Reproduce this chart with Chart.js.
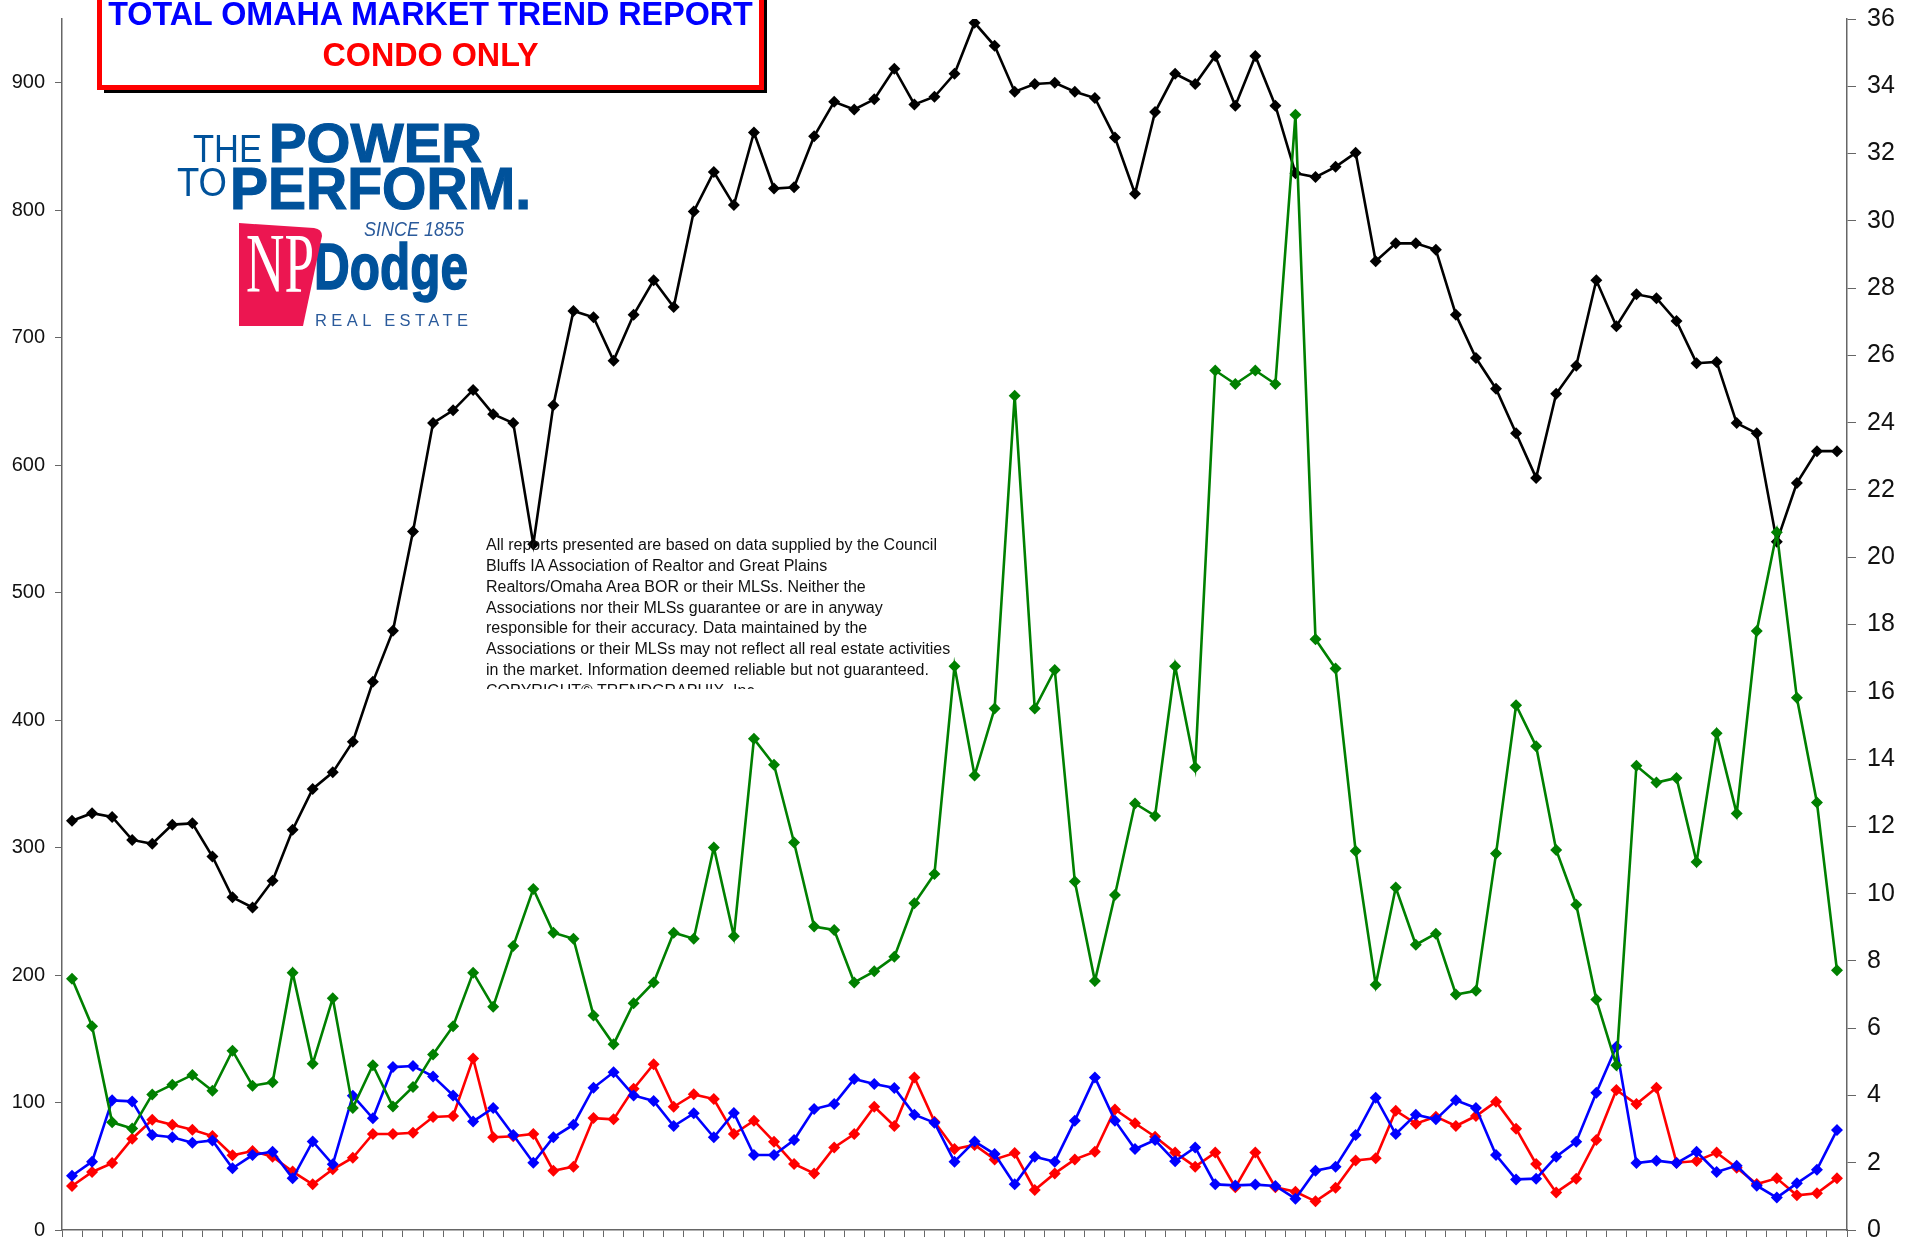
<!DOCTYPE html>
<html><head><meta charset="utf-8">
<style>
html,body{margin:0;padding:0;background:#fff;width:1910px;height:1243px;overflow:hidden;font-family:"Liberation Sans",Arial,sans-serif}
#wrap{position:relative;width:1910px;height:1243px;overflow:hidden}
canvas{position:absolute;left:0;top:0}
.ov{position:absolute;pointer-events:none}
#shadow{left:104px;top:-20px;width:663px;height:113px;background:#000}
#box{left:97px;top:-20px;width:657px;height:100px;border:5px solid #f00;background:#fff}
.t{position:absolute;left:97px;width:667px;text-align:center;font-weight:bold;font-size:32.3px;line-height:36px;white-space:nowrap}
#disc{left:486px;top:535px;width:490px;height:154px;overflow:hidden;font-size:16px;line-height:20.85px;color:#111;white-space:nowrap}
svg{position:absolute;left:0;top:0}
</style>
<script src="https://cdn.jsdelivr.net/npm/chart.js@4/dist/chart.umd.min.js"></script>
</head><body>
<div id="wrap">
<canvas id="c" width="1910" height="1243"></canvas>
<div class="ov" id="shadow"></div>
<div class="ov" id="box"></div>
<div class="t" style="top:-4px;color:#00f">TOTAL OMAHA MARKET TREND REPORT</div>
<div class="t" style="top:37px;color:#f00">CONDO ONLY</div>
<svg class="ov" width="1910" height="1243" font-family="Liberation Sans">
 <g fill="#00529b">
  <text x="193" y="162" font-size="38" textLength="69" lengthAdjust="spacingAndGlyphs">THE</text>
  <text x="269" y="162" font-size="56" font-weight="bold" stroke="#00529b" stroke-width="1.2" textLength="213" lengthAdjust="spacingAndGlyphs">POWER</text>
  <text x="177" y="196" font-size="40" textLength="50" lengthAdjust="spacingAndGlyphs">TO</text>
  <text x="230" y="209" font-size="60" font-weight="bold" stroke="#00529b" stroke-width="1.2" textLength="301" lengthAdjust="spacingAndGlyphs">PERFORM.</text>
  <text x="364" y="236" font-size="20" font-style="italic" textLength="100" lengthAdjust="spacingAndGlyphs" fill="#2a5a9b">SINCE 1855</text>
  <text x="314" y="289" font-size="64" font-weight="bold" stroke="#00529b" stroke-width="1.6" textLength="154" lengthAdjust="spacingAndGlyphs">Dodge</text>
  <text x="315" y="326" font-size="16.5" textLength="153" fill="#2a5a9b">REAL ESTATE</text>
 </g>
 <path d="M239 223 L314 228 Q322 229 322 236 L303 326 L239 326 Z" fill="#ec1651"/>
 <text x="246" y="292" font-family="Liberation Serif" font-size="84" fill="#fff" textLength="68" lengthAdjust="spacingAndGlyphs">NP</text>
</svg>
<div class="ov" id="disc">All reports presented are based on data supplied by the Council<br>Bluffs IA Association of Realtor and Great Plains<br>Realtors/Omaha Area BOR or their MLSs. Neither the<br>Associations nor their MLSs guarantee or are in anyway<br>responsible for their accuracy. Data maintained by the<br>Associations or their MLSs may not reflect all real estate activities<br>in the market. Information deemed reliable but not guaranteed.<br>COPYRIGHT© TRENDGRAPHIX, Inc.</div>
</div>
<script>
const activeListings = [321,327,324,306,303,318,319,293,261,253,274,314,346,359,383,430,470,548,633,643,659,640,633,538,647,721,716,682,718,745,724,799,830,804,861,817,818,858,885,879,887,911,883,889,907,947,929,893,899,900,893,888,857,813,877,907,899,921,882,921,882,829,826,834,845,760,774,774,769,718,684,660,625,590,656,678,745,709,734,731,713,680,681,633,625,540,586,611,611];
const soldHomes = [34.5,45.5,52.5,71.6,86.5,82.6,78.7,73.7,58.6,62,57.5,45.8,35.8,47.6,56.7,75.3,75.3,76.3,88.6,89.4,134.6,72.7,73.5,75.3,46.5,49.7,87.8,86.8,110.8,130,96.7,106.4,102.7,75.3,85.8,69.3,51.8,44.4,64.8,75.3,96.7,81.6,119.7,85,63.5,66.7,55.4,60.4,31.4,44.4,55.4,61.4,94.6,83.7,73.2,60.7,49.7,60.7,33.5,60.7,33.5,30,22.5,33.2,54.6,56.2,93.6,83.4,88.9,81.6,89.4,100.7,79.5,51.8,29.5,40.3,70.6,109.8,98.8,111.6,52.8,54.1,60.7,48.9,36,40.5,27.2,28.8,40.5];
const pendingHomes = [42.6,53.6,101.7,100.9,74.5,72.7,68.5,70.3,48.4,58.8,61.4,40.5,69.5,51.5,105.4,87.6,127.8,128.6,120.5,105.6,85.2,95.7,74.5,52.8,72.7,82.6,111.6,123.7,105.6,101.2,81.6,91.5,72.7,91.8,58.8,58.8,70.6,94.9,98.8,118.4,114.5,111.4,90.5,84.2,53.6,69.5,59.6,35.8,57.5,53.6,85.8,119.7,85.8,63.5,70.6,53.9,64.8,35.8,35,35.6,34.5,24.6,46.5,49.7,74.5,103.8,75.3,90.5,86.8,101.7,95.7,58.8,39.7,40.3,57.5,69.3,107.7,143.8,52.5,54.4,52.5,61.4,45.5,50.5,34.8,25.4,36.6,47.3,78.4];
const monthsSupply = [7.47,6.06,3.2,3.02,4.03,4.32,4.61,4.14,5.33,4.29,4.39,7.65,4.94,6.89,3.63,4.9,3.67,4.25,5.22,6.06,7.65,6.64,8.44,10.14,8.84,8.66,6.38,5.52,6.74,7.36,8.84,8.66,11.37,8.73,14.6,13.83,11.52,9.02,8.92,7.36,7.69,8.12,9.71,10.58,16.76,13.51,15.5,24.8,15.5,16.65,10.36,7.4,9.96,12.68,12.31,16.76,13.76,25.55,25.15,25.55,25.15,33.15,17.56,16.69,11.27,7.29,10.18,8.48,8.81,7,7.11,11.19,15.6,14.38,11.3,9.67,6.85,4.9,13.8,13.3,13.44,10.94,14.77,12.38,17.81,20.74,15.82,12.71,7.72];
const categories = activeListings.map((_, i) => String(i + 1));

const ds = (label, data, color, axis, order) => ({
  label, data, yAxisID: axis, order,
  borderColor: color, backgroundColor: color, borderWidth: 2.6,
  pointStyle: 'rectRot', pointRadius: 6, pointBorderWidth: 0,
  pointBackgroundColor: color, tension: 0, fill: false
});
const axisColor = '#666666';
const noPad = s => { s.paddingTop = 0; s.paddingBottom = 0; s.paddingLeft = 0; s.paddingRight = 0; };
new Chart(document.getElementById('c'), {
  type: 'line',
  data: { labels: categories, datasets: [
    ds('Active Listings', activeListings, '#000000', 'y', 4),
    ds('Sold', soldHomes, '#ff0000', 'y', 3),
    ds('Pending', pendingHomes, '#0000ff', 'y', 2),
    ds('Months of Supply', monthsSupply, '#008000', 'y1', 1)
  ]},
  options: {
    responsive: false, animation: false, events: [],
    layout: { autoPadding: false, padding: { left: 0, right: 0, top: 19, bottom: 0 } },
    plugins: { legend: { display: false }, title: { display: false }, tooltip: { enabled: false } },
    scales: {
      x: {
        type: 'category', offset: true,
        grid: { offset: true, drawOnChartArea: false, drawTicks: true, tickLength: 7, color: axisColor },
        border: { display: true, color: axisColor, width: 1.5 },
        ticks: { display: false, autoSkip: false, maxRotation: 0 },
        afterFit: s => { s.height = 13; noPad(s); }
      },
      y: {
        position: 'left', min: 0, max: 950,
        grid: { drawOnChartArea: false, drawTicks: true, tickLength: 7, color: axisColor },
        border: { display: true, color: axisColor, width: 1.5 },
        ticks: { stepSize: 100, includeBounds: false, color: '#111', padding: 10, font: { family: 'Liberation Sans', size: 20 } },
        afterFit: s => { s.width = 62; noPad(s); }
      },
      y1: {
        position: 'right', min: 0, max: 36,
        grid: { drawOnChartArea: false, drawTicks: true, tickLength: 9, color: axisColor },
        border: { display: true, color: axisColor, width: 1.5 },
        ticks: { stepSize: 2, color: '#111', padding: 11, autoSkip: false, font: { family: 'Liberation Sans', size: 25 } },
        afterFit: s => { s.width = 63; noPad(s); }
      }
    }
  }
});
</script>
</body></html>
